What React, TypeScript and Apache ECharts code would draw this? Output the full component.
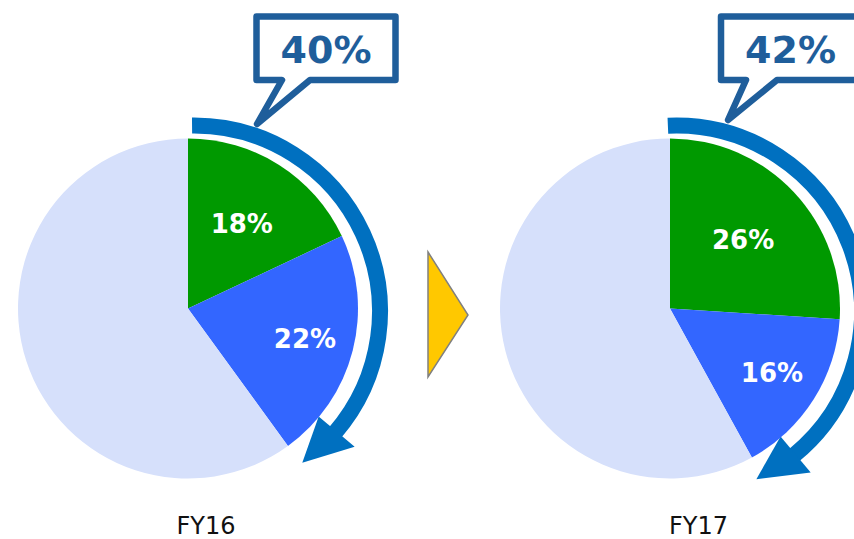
import React, { useEffect, useRef } from 'react';
import * as echarts from 'echarts';

// ---- data ----
const YEARS = ['FY16', 'FY17'];
const GREEN_SHARE = [18, 26];
const BLUE_SHARE = [22, 16];
const OTHER_SHARE = [60, 58];
const SLICE_NAMES = ['Segment A', 'Segment B', 'Other'];

// ---- layout / style ----
const COLORS = ['#009900', '#3366FF', '#D6E0FB'];
const PIE_CENTERS = [
  [188, 308.5],
  [670, 308.5],
];
const PIE_R = 170;
const LABEL_FRAC = [0.59, 0.71];
const ARC_OFFSET = [6, 3];
const ARC_R = 186;
const ARC_W = 16;
const ARROW_START_DEG = [-0.6, -2.5];
const ARROW_TIP_DEG = [144.4, 154.4];
const ARROW_COLOR = '#0070C0';
const CALLOUT_COLOR = '#1F5E9B';
const CALLOUT_LEFT = [256.5, 721];
const CALLOUT_W = 139;
const CALLOUT_TOP = 16.5;
const CALLOUT_BOTTOM = 80;
const POINTER_BASE = [
  [282, 310],
  [746, 777],
];
const POINTER_TIP = [
  [257, 124],
  [728, 120],
];
const YEAR_LABEL_X = [206, 698.5];
const FONT = '"DejaVu Sans", Verdana, sans-serif';

const rad = (d: number) => (d * Math.PI) / 180;
const polar = (c: number[], r: number, deg: number) => [
  c[0] + r * Math.sin(rad(deg)),
  c[1] - r * Math.cos(rad(deg)),
];

export default function App() {
  const ref = useRef<HTMLDivElement>(null);
  useEffect(() => {
    if (!ref.current) return;
    const chart = echarts.init(ref.current, null, { renderer: 'svg' });

    const series: any[] = YEARS.map((year, i) => {
      const values = [GREEN_SHARE[i], BLUE_SHARE[i], OTHER_SHARE[i]];
      const total = values.reduce((a, b) => a + b, 0);
      return {
        type: 'pie',
        name: year,
        center: PIE_CENTERS[i],
        radius: PIE_R,
        startAngle: 90,
        clockwise: true,
        silent: true,
        avoidLabelOverlap: false,
        itemStyle: { borderWidth: 0 },
        label: {
          show: true,
          position: 'inside',
          formatter: '{c}%',
          color: '#ffffff',
          fontWeight: 'bold',
          fontSize: 26,
          fontFamily: FONT,
        },
        labelLine: { show: false },
        labelLayout: (p: any) => {
          const idx = p.dataIndex;
          if (idx > 1) return {};
          let before = 0;
          for (let k = 0; k < idx; k++) before += values[k];
          const mid = ((before + values[idx] / 2) / total) * 360;
          const [x, y] = polar(PIE_CENTERS[i], PIE_R * LABEL_FRAC[idx], mid);
          return { x, y, align: 'center', verticalAlign: 'middle' };
        },
        data: values.map((v, k) => ({
          name: SLICE_NAMES[k],
          value: v,
          itemStyle: { color: COLORS[k] },
          label: { show: k < 2 },
        })),
      };
    });

    const graphics: any[] = [];
    YEARS.forEach((year, i) => {
      const ac = [PIE_CENTERS[i][0] + ARC_OFFSET[0], PIE_CENTERS[i][1] + ARC_OFFSET[1]];
      const tip = ARROW_TIP_DEG[i];
      const base = tip - 14.3;
      graphics.push({
        type: 'arc',
        shape: {
          cx: ac[0],
          cy: ac[1],
          r: ARC_R,
          startAngle: rad(ARROW_START_DEG[i] - 90),
          endAngle: rad(base + 0.8 - 90),
          clockwise: true,
        },
        style: { stroke: ARROW_COLOR, lineWidth: ARC_W, fill: 'none', lineCap: 'butt' },
        silent: true,
      });
      graphics.push({
        type: 'polygon',
        shape: {
          points: [
            polar(ac, ARC_R - 23, base),
            polar(ac, ARC_R, tip),
            polar(ac, ARC_R + 24, base),
          ],
        },
        style: { fill: ARROW_COLOR },
        silent: true,
      });
      // callout
      const L = CALLOUT_LEFT[i];
      const R = L + CALLOUT_W;
      graphics.push({
        type: 'polygon',
        shape: {
          points: [
            [L, CALLOUT_TOP],
            [R, CALLOUT_TOP],
            [R, CALLOUT_BOTTOM],
            [POINTER_BASE[i][1], CALLOUT_BOTTOM],
            POINTER_TIP[i],
            [POINTER_BASE[i][0], CALLOUT_BOTTOM],
            [L, CALLOUT_BOTTOM],
          ],
        },
        style: { fill: '#ffffff', stroke: CALLOUT_COLOR, lineWidth: 6.5, lineJoin: 'round' },
        silent: true,
      });
      const total = GREEN_SHARE[i] + BLUE_SHARE[i];
      graphics.push({
        type: 'text',
        x: L + CALLOUT_W / 2,
        y: 50,
        style: {
          text: `${total}%`,
          fill: CALLOUT_COLOR,
          font: `bold 38px ${FONT}`,
          align: 'center',
          verticalAlign: 'middle',
        },
        silent: true,
      });
      graphics.push({
        type: 'text',
        x: YEAR_LABEL_X[i],
        y: 526,
        style: {
          text: year,
          fill: '#111111',
          font: `24px ${FONT}`,
          align: 'center',
          verticalAlign: 'middle',
        },
        silent: true,
      });
    });
    graphics.push({
      type: 'polygon',
      shape: {
        points: [
          [428, 252],
          [468, 315],
          [428, 377],
        ],
      },
      style: { fill: '#FFC800', stroke: '#808080', lineWidth: 1.5 },
      silent: true,
    });

    chart.setOption({
      animation: false,
      backgroundColor: '#ffffff',
      series,
      graphic: { elements: graphics },
    });
    return () => chart.dispose();
  }, []);

  return (
    <div
      ref={ref}
      style={{ position: 'fixed', left: 0, top: 0, width: 854, height: 539 }}
    />
  );
}
